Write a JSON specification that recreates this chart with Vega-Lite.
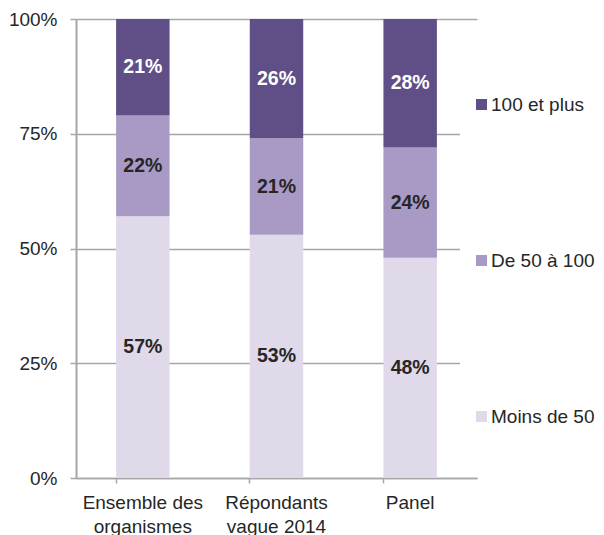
{
  "$schema": "https://vega.github.io/schema/vega-lite/v6.json",
  "width": 401,
  "height": 459,
  "autosize": {"type": "none"},
  "padding": {"left": 76, "top": 19, "right": 127, "bottom": 57},
  "background": "white",
  "data": {
    "values": [
      {"groupe": "Ensemble des organismes", "classe": "Moins de 50", "pct": 57},
      {"groupe": "Ensemble des organismes", "classe": "De 50 à 100", "pct": 22},
      {"groupe": "Ensemble des organismes", "classe": "100 et plus", "pct": 21},
      {"groupe": "Répondants vague 2014", "classe": "Moins de 50", "pct": 53},
      {"groupe": "Répondants vague 2014", "classe": "De 50 à 100", "pct": 21},
      {"groupe": "Répondants vague 2014", "classe": "100 et plus", "pct": 26},
      {"groupe": "Panel", "classe": "Moins de 50", "pct": 48},
      {"groupe": "Panel", "classe": "De 50 à 100", "pct": 24},
      {"groupe": "Panel", "classe": "100 et plus", "pct": 28}
    ]
  },
  "encoding": {
    "x": {
      "field": "groupe",
      "type": "nominal",
      "sort": ["Ensemble des organismes", "Répondants vague 2014", "Panel"],
      "scale": {"paddingInner": 0.6, "paddingOuter": 0.3},
      "axis": {
        "title": null,
        "labelAngle": 0,
        "bandPosition": 0,
        "domainColor": "#a6a6a6",
        "domainWidth": 1.5,
        "tickColor": "#a6a6a6",
        "tickWidth": 1.5,
        "tickSize": 5,
        "labelPadding": 10,
        "labelBaseline": "top",
        "labelFont": "Liberation Sans",
        "labelFontSize": 19,
        "labelColor": "#262626",
        "labelLineHeight": 24,
        "labelExpr": "datum.value == 'Ensemble des organismes' ? ['Ensemble des', 'organismes'] : datum.value == 'Répondants vague 2014' ? ['Répondants', 'vague 2014'] : datum.value"
      }
    },
    "order": {"field": "classe", "sort": "descending"}
  },
  "layer": [
    {
      "mark": {"type": "bar"},
      "encoding": {
        "y": {
          "field": "pct",
          "type": "quantitative",
          "stack": "zero",
          "scale": {"domain": [0, 100], "nice": false},
          "axis": {
            "title": null,
            "values": [0, 25, 50, 75, 100],
            "labelExpr": "datum.value + '%'",
            "grid": true,
            "gridColor": "#a6a6a6",
            "gridWidth": 1.5,
            "domainColor": "#a6a6a6",
            "domainWidth": 2,
            "tickColor": "#a6a6a6",
            "tickWidth": 1.5,
            "tickSize": 6,
            "labelPadding": 13,
            "labelFont": "Liberation Sans",
            "labelFontSize": 19,
            "labelColor": "#262626"
          }
        },
        "color": {
          "field": "classe",
          "type": "nominal",
          "scale": {
            "domain": ["100 et plus", "De 50 à 100", "Moins de 50"],
            "range": ["#5f4f86", "#a899c5", "#dfd9ea"]
          },
          "legend": {
            "title": null,
            "orient": "none",
            "legendX": 384,
            "legendY": 64,
            "fillColor": "white",
            "padding": 12,
            "rowPadding": 136,
            "symbolType": "square",
            "symbolSize": 121,
            "symbolStrokeWidth": 0,
            "symbolOpacity": 1,
            "labelOffset": 0,
            "labelFont": "Liberation Sans",
            "labelFontSize": 19,
            "labelColor": "#262626"
          }
        }
      }
    },
    {
      "mark": {
        "type": "text",
        "font": "Liberation Sans",
        "fontSize": 19.5,
        "fontWeight": "bold",
        "baseline": "middle",
        "align": "center",
        "text": {"expr": "datum.pct + '%'"}
      },
      "encoding": {
        "y": {"field": "pct", "type": "quantitative", "stack": "zero", "bandPosition": 0.5},
        "color": {
          "condition": {"test": "datum.classe == '100 et plus'", "value": "white"},
          "value": "#262626"
        }
      }
    }
  ],
  "config": {
    "view": {"stroke": null},
    "axis": {"grid": false}
  }
}
